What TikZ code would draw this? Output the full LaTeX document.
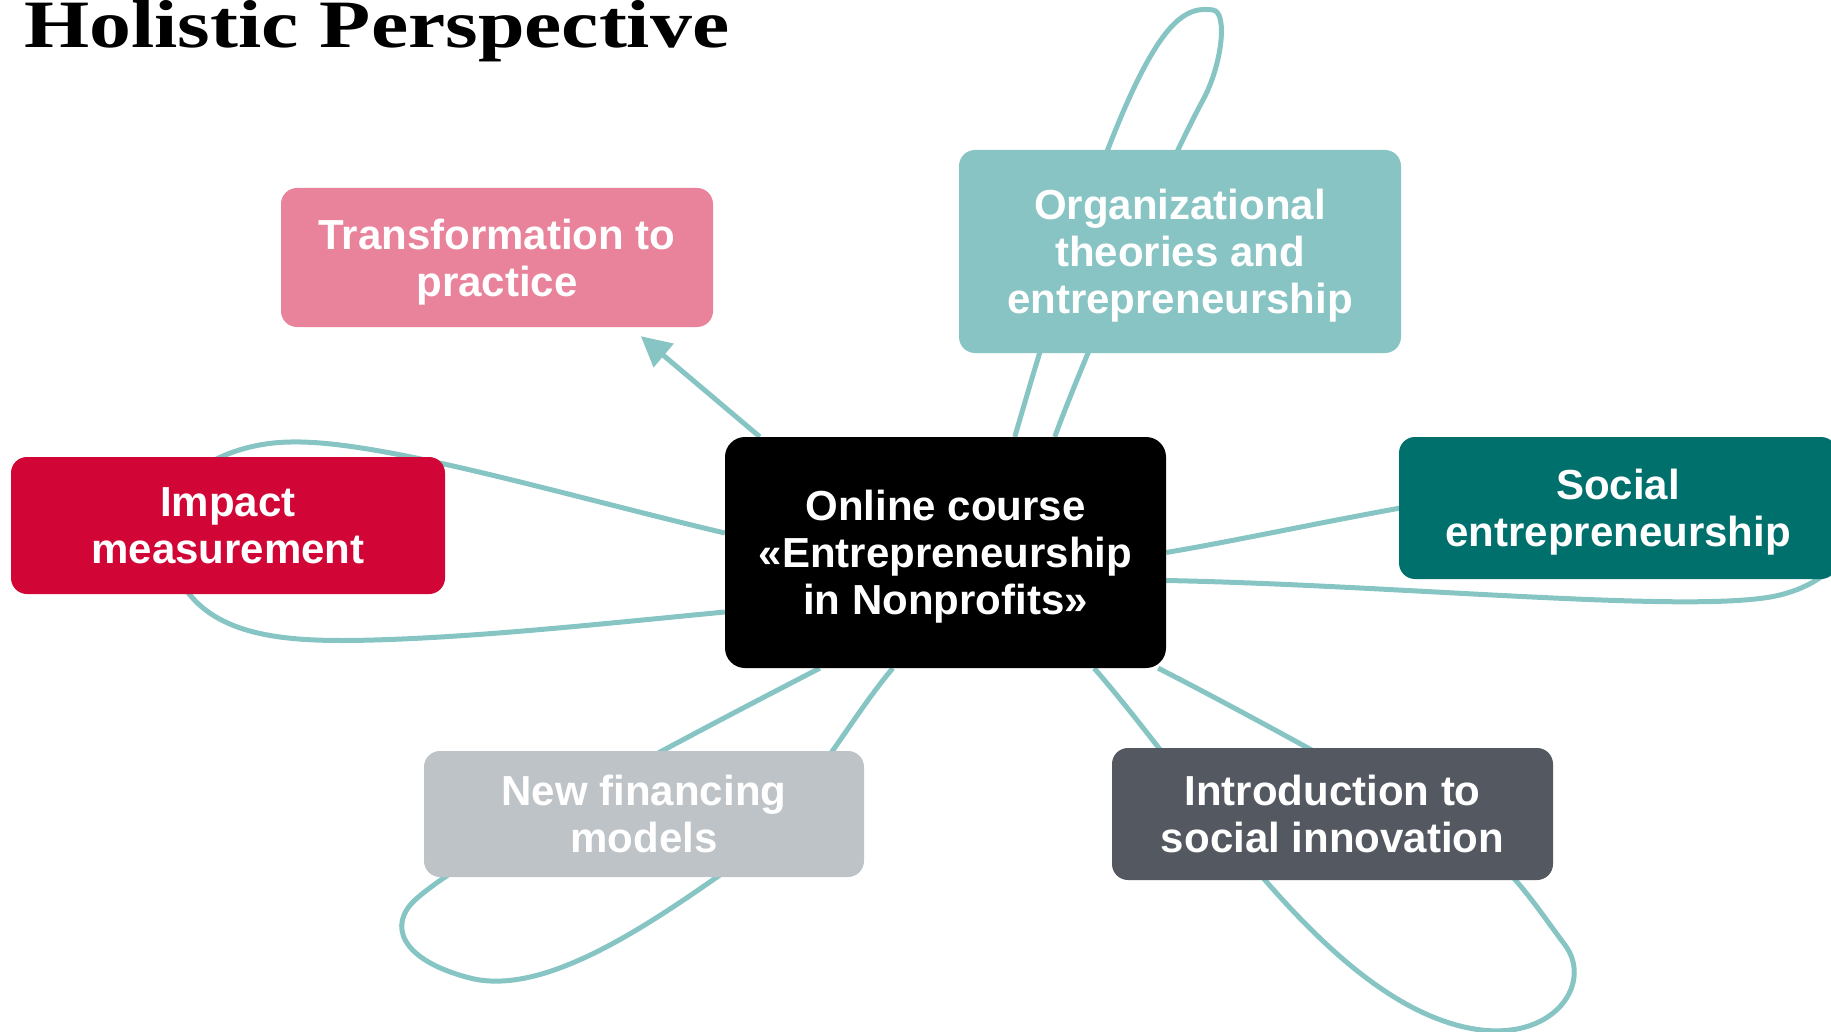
\documentclass[tikz,border=0pt]{standalone}
\usepackage{fontspec}
\setmainfont{Liberation Sans}
\newfontfamily\titlefont{Liberation Serif}
\usetikzlibrary{arrows.meta,backgrounds,calc}
\definecolor{pinkc}{HTML}{E8839B}
\definecolor{orgc}{HTML}{87C4C3}
\definecolor{socc}{HTML}{00706D}
\definecolor{impc}{HTML}{D10637}
\definecolor{finc}{HTML}{BEC3C7}
\definecolor{intc}{HTML}{545861}
\definecolor{conncol}{HTML}{86C5C4}
\newcommand\nodp[1]{\raisebox{0pt}[\height][0pt]{#1}}
\begin{document}
\begin{tikzpicture}[x=1pt,y=-1pt,
  box/.style={rounded corners=16pt, inner sep=0pt, text=white, align=center,
    font=\fontsize{42}{47}\selectfont\bfseries},
  link/.style={draw=conncol, line width=5pt}]
\useasboundingbox (0,0) rectangle (1831,1032);
\clip (0,0) rectangle (1831,1032);

\node[anchor=base west, inner sep=0pt] (title) at (24,48)
  {\resizebox{705pt}{47pt}{\titlefont\bfseries Holistic Perspective}};

\node[box, fill=pinkc, minimum width=432pt, minimum height=139pt] (tr) at (497,257.5) {Transformation to\\\nodp{practice}};
\node[box, fill=orgc, minimum width=442pt, minimum height=203pt] (org) at (1180,251.5) {Organizational\\theories and\\\nodp{entrepreneurship}};
\node[box, fill=black, rounded corners=20pt, minimum width=441pt, minimum height=231pt] (c) at (945.5,552.5) {Online course\\«Entrepreneurship\\\nodp{in Nonprofits»}};
\node[box, fill=socc, minimum width=438pt, minimum height=142pt] (soc) at (1618,508) {Social\\\nodp{entrepreneurship}};
\node[box, fill=impc, minimum width=434pt, minimum height=137pt] (imp) at (228,525.5) {Impact\\measurement};
\node[box, fill=finc, minimum width=440pt, minimum height=126pt] (fin) at (644,814) {New financing\\models};
\node[box, fill=intc, minimum width=441pt, minimum height=132pt] (int) at (1332.5,814) {Introduction to\\social innovation};

\begin{pgfonlayer}{background}
\clip (0,0) rectangle (1831,1032);
% arrow to Transformation
\draw[link, -{Triangle[length=30pt,width=30pt]}] ([xshift=35pt]c.north west) -- ([xshift=360pt,yshift=-9pt]tr.south west);
% Organizational loop
\draw[link] ([xshift=290pt]c.north west) .. controls (1134,25) and (1175,5) .. (1213,10)
  .. controls (1228,12) and (1222,65) .. (1203,100)
  .. controls (1165,170) and (1080,367) .. ([xshift=330pt]c.north west);
% Social loop
\draw[link] (c.east) .. controls (1300,530) and (1500,480) .. (1700,470)
  .. controls (1880,465) and (1880,570) .. (1780,595)
  .. controls (1700,615) and (1400,585) .. ([yshift=-28pt]c.east);
% Introduction loop
\draw[link] ([xshift=-72pt]c.south east) .. controls (1200,790) and (1320,990) .. (1460,1026)
  .. controls (1550,1049) and (1595,985) .. (1565,945)
  .. controls (1535,905) and (1510,865) .. (1470,840)
  .. controls (1430,815) and (1260,720) .. ([xshift=-8pt]c.south east);
% New financing loop
\draw[link] ([xshift=95pt]c.south west) .. controls (700,730) and (470,850) .. (415,900)
  .. controls (388,925) and (400,960) .. (470,978)
  .. controls (540,996) and (637,933) .. (717,877)
  .. controls (797,821) and (843,727) .. ([xshift=168pt]c.south west);
% Impact loop
\draw[link] ([yshift=19.5pt]c.west) .. controls (560,494) and (380,440) .. (291,442)
  .. controls (200,443) and (120,510) .. (190,595)
  .. controls (227,640) and (300,642) .. (374,640)
  .. controls (480,637) and (600,624) .. ([yshift=-59.5pt]c.west);
\end{pgfonlayer}
\end{tikzpicture}
\end{document}
